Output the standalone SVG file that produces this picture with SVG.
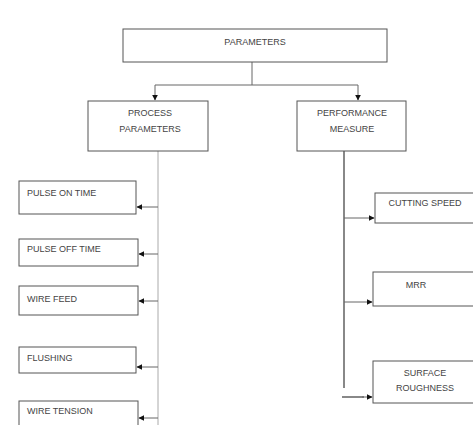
<svg xmlns="http://www.w3.org/2000/svg" width="473" height="425" viewBox="0 0 473 425">
<style>
.box{fill:#fff;stroke:#555;stroke-width:1}
.t{font-family:"Liberation Sans",Arial,sans-serif;font-size:9px;fill:#444}
.c{text-anchor:middle}
.ln{stroke:#666;stroke-width:1;fill:none}
.lt{stroke:#aaa;stroke-width:1;fill:none}
.lk{stroke:#888;stroke-width:2;fill:none}
</style>
<defs>
<marker id="ah" viewBox="0 0 10 10" refX="9" refY="5" markerWidth="6" markerHeight="6" orient="auto" markerUnits="userSpaceOnUse">
<path d="M0,0 L10,5 L0,10 Z" fill="#111"/>
</marker>
</defs>
<rect width="473" height="425" fill="#fff"/>
<g id="connectors">
<path class="ln" d="M252,62 V85 M155,85 H358"/>
<path class="ln" d="M155,85 V100" marker-end="url(#ah)"/>
<path class="ln" d="M358,85 V100" marker-end="url(#ah)"/>
<path class="lt" d="M158,151 V425"/>
<path class="ln" d="M158,207 H137" marker-end="url(#ah)"/>
<path class="ln" d="M158,254 H139" marker-end="url(#ah)"/>
<path class="ln" d="M158,301 H139" marker-end="url(#ah)"/>
<path class="ln" d="M158,367 H137" marker-end="url(#ah)"/>
<path class="ln" d="M158,418 H139" marker-end="url(#ah)"/>
<path class="lk" d="M344,151 V388"/>
<path class="ln" d="M344,218 H374" marker-end="url(#ah)"/>
<path class="ln" d="M344,302 H372" marker-end="url(#ah)"/>
<path class="lk" d="M342,397 H364"/>
<path class="ln" d="M362,397 H372" marker-end="url(#ah)"/>
</g>
<g id="parameters">
<rect class="box" x="123" y="29" width="264" height="33"/>
<text class="t c" x="255" y="45">PARAMETERS</text>
</g>
<g id="process-parameters">
<rect class="box" x="88" y="101" width="120" height="50"/>
<text class="t c" x="150" y="116">PROCESS</text>
<text class="t c" x="150" y="132">PARAMETERS</text>
</g>
<g id="performance-measure">
<rect class="box" x="297" y="101" width="109" height="50"/>
<text class="t c" x="352" y="116">PERFORMANCE</text>
<text class="t c" x="352" y="132">MEASURE</text>
</g>
<g id="pulse-on-time">
<rect class="box" x="19" y="181" width="117" height="33"/>
<text class="t" x="27" y="196">PULSE ON TIME</text>
</g>
<g id="pulse-off-time">
<rect class="box" x="19" y="239" width="119" height="27"/>
<text class="t" x="27" y="252">PULSE OFF TIME</text>
</g>
<g id="wire-feed">
<rect class="box" x="19" y="286" width="119" height="29"/>
<text class="t" x="27" y="302">WIRE FEED</text>
</g>
<g id="flushing">
<rect class="box" x="19" y="347" width="117" height="26"/>
<text class="t" x="27" y="361">FLUSHING</text>
</g>
<g id="wire-tension">
<rect class="box" x="19" y="401" width="119" height="30"/>
<text class="t" x="27" y="414">WIRE TENSION</text>
</g>
<g id="cutting-speed">
<rect class="box" x="375" y="193" width="100" height="30"/>
<text class="t c" x="425" y="206">CUTTING SPEED</text>
</g>
<g id="mrr">
<rect class="box" x="373" y="272" width="102" height="34"/>
<text class="t c" x="416" y="288">MRR</text>
</g>
<g id="surface-roughness">
<rect class="box" x="373" y="361" width="102" height="42"/>
<text class="t c" x="425" y="376">SURFACE</text>
<text class="t c" x="425" y="391">ROUGHNESS</text>
</g>
</svg>
